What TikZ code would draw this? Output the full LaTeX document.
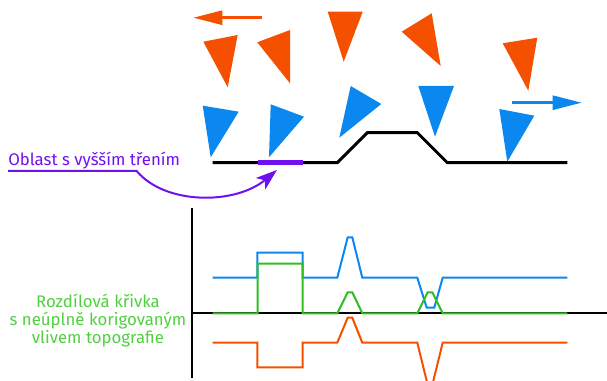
\documentclass[tikz,border=0pt]{standalone}
\usepackage{fontspec}
\setmainfont{Fira Sans}
\usetikzlibrary{arrows.meta}
\definecolor{tangerine}{HTML}{F55000}
\definecolor{skyblue}{HTML}{0A88F0}
\definecolor{leafgreen}{HTML}{30BE20}
\definecolor{lighttext}{HTML}{50D040}
\definecolor{violet}{HTML}{7010F0}
\begin{document}
\begin{tikzpicture}[x=0.75pt,y=-0.75pt,
  lbl/.style={inner sep=0pt, font=\fontsize{12.6}{13.2}\selectfont},
  orangetri/.style={fill=tangerine},
  bluetri/.style={fill=skyblue},
  curve/.style={line width=1.5pt, line join=miter},
  bigtip/.style={-{Triangle[length=21.75pt,width=10.5pt]}, line width=2pt}]
\useasboundingbox (0,0) rectangle (607,381);

% motion arrows
\draw[bigtip, tangerine] (262,17.7) -- (193.3,17.7);
\draw[bigtip, skyblue] (512,102.7) -- (581.7,102.7);

% upper surface triangles
\fill[orangetri] (203.3,41.7) -- (237.7,35) -- (227.7,87.3) -- cycle;
\fill[orangetri] (257.3,42.3) -- (290,30) -- (290,83.3) -- cycle;
\fill[orangetri] (327.7,11.7) -- (362.7,11.7) -- (343.7,61.7) -- cycle;
\fill[orangetri] (401.7,31.7) -- (431.7,13.3) -- (440.7,66) -- cycle;
\fill[orangetri] (502.7,43.3) -- (537.3,37.7) -- (528.3,90.7) -- cycle;

% lower surface triangles
\fill[bluetri] (202.7,105.7) -- (238.7,111.7) -- (210.7,157.3) -- cycle;
\fill[bluetri] (270.7,104.3) -- (304,116.7) -- (269,157.3) -- cycle;
\fill[bluetri] (350.7,86) -- (381.3,104) -- (339.3,137.7) -- cycle;
\fill[bluetri] (418.3,86) -- (454,86) -- (435,136.7) -- cycle;
\fill[bluetri] (499.3,109) -- (534.3,115.7) -- (507.3,161.7) -- cycle;

% sample profile
\draw[line width=2.2pt] (212.7,162.7) -- (337.3,162.7) -- (367.3,132.7)
  -- (417.3,132.7) -- (447.3,162.7) -- (567.3,162.7);
\draw[violet, line width=4pt] (257.7,162.7) -- (302.7,162.7);
\coordinate (patch) at (277,170);

% label of the high-friction patch
\node[lbl, violet, anchor=base west] (frictxt) at (8,166) {Oblast s vyšším třením};
\coordinate (ul) at (136.7,171);
\draw[violet, line width=1.5pt, -{Stealth[length=16pt,width=11pt,inset=4pt]}]
  (frictxt.base west |- ul) -- (ul) .. controls (165,205) and (235,205) .. (patch);

% axes
\draw[line width=1.5pt] (192.3,208.3) -- (192.3,377.7);
\draw[line width=1.5pt] (192.3,313.3) -- (607,313.3);

% blue signal
\draw[curve, skyblue] (212.7,277.7) -- (257.3,277.7) -- (257.3,252.7) -- (302.7,252.7)
  -- (302.7,277.7) -- (337.3,277.7) -- (347.7,237.3) -- (352.3,237.3) -- (362.3,277.7)
  -- (417.3,277.7) -- (426.7,307.7) -- (434.3,307.7) -- (442.7,277.7) -- (567.3,277.7);

% orange signal
\begin{scope}
\clip (0,0) rectangle (607,381);
\draw[curve, tangerine] (212.7,342.7) -- (257.3,342.7) -- (257.3,367.3) -- (302.7,367.3)
  -- (302.7,342.7) -- (337.3,342.7) -- (347.7,317.7) -- (352.3,317.7) -- (362.3,342.7)
  -- (417.3,342.7) -- (427.7,385) -- (432.3,385) -- (442.7,342.7) -- (567.3,342.7);
\end{scope}

% green difference signal
\draw[curve, leafgreen] (212.7,313.3) -- (257.7,313.3) -- (257.7,263.7) -- (302.7,263.7)
  -- (302.7,313.3) -- (337.3,313.3) -- (347.7,292.3) -- (352.3,292.3) -- (362.3,313.3)
  -- (417.3,313.3) -- (427.7,292.3) -- (432.3,292.3) -- (442.7,313.3) -- (567.3,313.3);

\node[lbl, lighttext, align=center, anchor=base] (difftxt) at (98,343)
  {Rozdílová křivka\\s neúplně korigovaným\\vlivem topografie};
\end{tikzpicture}
\end{document}
